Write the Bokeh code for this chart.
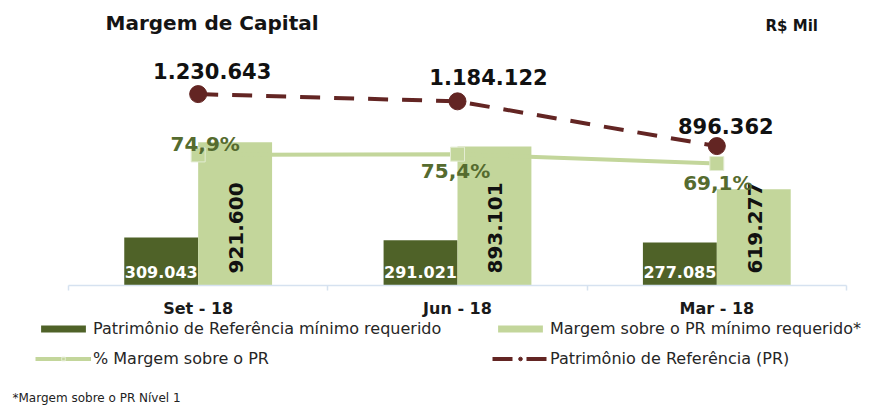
import numpy as np
from bokeh.plotting import figure
from bokeh.models import Range1d, LinearAxis, FixedTicker, Legend, LegendItem
from bokeh.core.properties import value
from bokeh.embed import file_html
from bokeh.resources import INLINE

# ---------------- data ----------------
categories = ["Set - 18", "Jun - 18", "Mar - 18"]
pr_minimo = [309043, 291021, 277085]          # Patrimônio de Referência mínimo requerido
margem_pr = [921600, 893101, 619277]          # Margem sobre o PR mínimo requerido*
pct_margem = [74.9, 75.4, 69.1]               # % Margem sobre o PR
pr_total = [1230643, 1184122, 896362]         # Patrimônio de Referência (PR)

def fmt_int(v):
    return f"{v:,}".replace(",", ".")

def fmt_pct(v):
    return f"{v:.1f}%".replace(".", ",")

# ---------------- styles ----------------
DARK = "#4f6228"
LIGHT = "#c3d69b"
RED = "#632523"
PCT_TXT = "#556b2f"
FONT = value("DejaVu Sans")

W, H = 888, 408
# x: categories occupy 0..3 ; y: primary (R$ mil) and secondary (%)
XS, XE = -0.2622, 3.1620
YS, YE = -790890, 1832550
YS2, YE2 = -95.30, 178.52

def fx(px):
    return XS + px / W * (XE - XS)

def fy(py):
    return YE - py / H * (YE - YS)

p = figure(width=W, height=H, output_backend="svg", toolbar_location=None,
           x_axis_location=None, y_axis_location=None,
           x_range=Range1d(XS, XE), y_range=Range1d(YS, YE))
p.min_border_left = p.min_border_right = p.min_border_top = p.min_border_bottom = 0
p.outline_line_color = None
p.grid.visible = False
p.background_fill_color = "white"
p.border_fill_color = "white"
p.extra_y_ranges = {"pct": Range1d(YS2, YE2)}

idx = np.arange(len(categories)) + 0.5
BAR_W = 0.285

# x axis at the zero line, tick marks between categories
xaxis = LinearAxis(fixed_location=0, bounds=(0, len(categories)),
                   ticker=FixedTicker(ticks=list(idx), minor_ticks=list(range(len(categories) + 1))),
                   major_label_overrides={float(k): c for k, c in zip(idx, categories)})
xaxis.axis_line_color = "#d6e2f0"
xaxis.axis_line_width = 1.5
xaxis.major_tick_line_color = None
xaxis.major_tick_out = 0
xaxis.major_tick_in = 0
xaxis.minor_tick_line_color = "#d6e2f0"
xaxis.minor_tick_line_width = 1.5
xaxis.minor_tick_out = 5
xaxis.minor_tick_in = 0
xaxis.major_label_text_font = "DejaVu Sans"
xaxis.major_label_text_font_style = "bold"
xaxis.major_label_text_font_size = "16px"
xaxis.major_label_text_color = "#1a1a1a"
xaxis.major_label_standoff = 8
p.add_layout(xaxis, "below")

# bars
r_dark = p.vbar(x=idx - BAR_W / 2, top=pr_minimo, bottom=0, width=BAR_W,
                fill_color=DARK, line_color=None)
p.text(x=idx - BAR_W / 2, y=[0] * len(categories), text=[fmt_int(v) for v in pr_minimo],
       text_font=FONT, text_font_style="bold", text_font_size="16px", text_color="white",
       text_align="center", text_baseline="middle", y_offset=-14)
r_light = p.vbar(x=idx + BAR_W / 2, top=margem_pr, bottom=0, width=BAR_W,
                 fill_color=LIGHT, line_color=None)
p.text(x=idx + BAR_W / 2, y=[0] * len(categories), text=[fmt_int(v) for v in margem_pr],
       text_font=FONT, text_font_style="bold", text_font_size="20px", text_color="#111111",
       text_align="left", text_baseline="middle", angle=np.pi / 2, y_offset=-12, x_offset=1)

# % line (secondary axis)
r_pct_line = p.line(x=idx, y=pct_margem, y_range_name="pct", line_color=LIGHT, line_width=4)
r_pct_pts = p.scatter(x=idx, y=pct_margem, y_range_name="pct", marker="square", size=14,
                      fill_color=LIGHT, line_color="#e4ecd3", line_width=1)

# PR line
r_pr_line = p.line(x=idx, y=pr_total, line_color=RED, line_width=4, line_dash="20 14")
r_pr_pts = p.scatter(x=idx, y=pr_total, marker="circle", size=17, fill_color=RED, line_color=RED)

# value labels
pr_dx = [14, 31, 9]
pr_dy = [-23, -24, -20]
p.text(x=idx, y=pr_total, text=[fmt_int(v) for v in pr_total],
       text_font=FONT, text_font_style="bold", text_font_size="21px", text_color="#111111",
       text_align="center", text_baseline="middle", x_offset=pr_dx, y_offset=pr_dy)

pct_dx = [7, -2, 1]
pct_dy = [-11, 17, 19]
p.text(x=idx, y=pct_margem, y_range_name="pct", text=[fmt_pct(v) for v in pct_margem],
       text_font=FONT, text_font_style="bold", text_font_size="20px", text_color=PCT_TXT,
       text_align="center", text_baseline="middle", x_offset=pct_dx, y_offset=pct_dy)

# titles / notes
p.text(x=[fx(105)], y=[fy(22)], text=["Margem de Capital"], text_font=FONT,
       text_font_style="bold", text_font_size="20px", text_color="#141414",
       text_align="left", text_baseline="middle")
p.text(x=[fx(765)], y=[fy(25)], text=["R$ Mil"], text_font=FONT,
       text_font_style="bold", text_font_size="15px", text_color="#141414",
       text_align="left", text_baseline="middle")
p.text(x=[fx(12)], y=[fy(397)], text=["*Margem sobre o PR Nível 1"], text_font=FONT,
       text_font_size="12px", text_color="#222222",
       text_align="left", text_baseline="middle")

# legends
def make_legend(items, loc):
    lg = Legend(items=items, location=loc, orientation="vertical")
    lg.glyph_width = 56
    lg.glyph_height = 9
    lg.label_standoff = 2
    lg.label_height = 20
    lg.spacing = 10
    lg.padding = 0
    lg.margin = 0
    lg.border_line_color = None
    lg.background_fill_alpha = 0
    lg.label_text_font = "DejaVu Sans"
    lg.label_text_font_size = "16px"
    lg.label_text_color = "#262626"
    return lg

leg1 = make_legend([
    LegendItem(label="Patrimônio de Referência mínimo requerido", renderers=[r_dark]),
    LegendItem(label="% Margem sobre o PR", renderers=[r_pct_line, r_pct_pts]),
], (35, 40))
leg2 = make_legend([
    LegendItem(label="Margem sobre o PR mínimo requerido*", renderers=[r_light]),
    LegendItem(label="Patrimônio de Referência (PR)", renderers=[r_pr_line, r_pr_pts]),
], (492, 40))
p.add_layout(leg1)
p.add_layout(leg2)

open("out.html", "w").write(file_html(p, INLINE))
